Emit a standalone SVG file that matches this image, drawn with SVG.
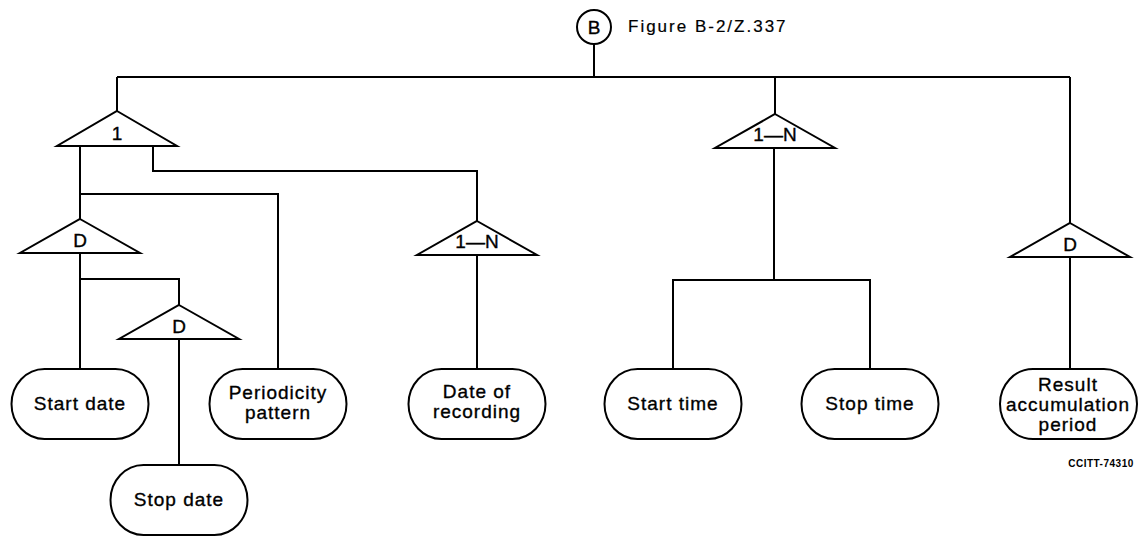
<svg xmlns="http://www.w3.org/2000/svg" width="1145" height="537" viewBox="0 0 1145 537">
<style>
.ln{fill:none;stroke:#000;stroke-width:2;stroke-linejoin:miter}
.tri{fill:#fff;stroke:#000;stroke-width:2;stroke-linejoin:miter}
.nd{fill:#fff;stroke:#000;stroke-width:2}
.t{font-family:"Liberation Sans",Arial,sans-serif;font-size:19px;letter-spacing:1px;text-anchor:middle;fill:#000;stroke:#000;stroke-width:0.35px}
.lab{font-family:"Liberation Sans",Arial,sans-serif;font-size:19px;text-anchor:middle;fill:#000;stroke:#000;stroke-width:0.35px}
.fig{font-family:"Liberation Sans",Arial,sans-serif;font-size:17px;letter-spacing:2px;fill:#000;stroke:#000;stroke-width:0.2px}
.code{font-family:"Liberation Sans",Arial,sans-serif;font-size:10px;font-weight:bold;letter-spacing:0.5px;text-anchor:middle;fill:#000}
</style>
<rect width="1145" height="537" fill="#fff"/>
<g id="connectors">
<path class="ln" d="M117 77 H1070"/>
<path class="ln" d="M594 44 V77"/>
<path class="ln" d="M117 77 V111"/>
<path class="ln" d="M775 77 V115"/>
<path class="ln" d="M1070 77 V223"/>
<path class="ln" d="M80 146 V219"/>
<path class="ln" d="M80 194 H278 V369"/>
<path class="ln" d="M153 146 V171 H477 V221"/>
<path class="ln" d="M80 253 V369"/>
<path class="ln" d="M80 279 H179 V305"/>
<path class="ln" d="M179 339 V465"/>
<path class="ln" d="M477 255 V369"/>
<path class="ln" d="M774 148 V280"/>
<path class="ln" d="M673 369 V280 H870 V369"/>
<path class="ln" d="M1070 257 V369"/>
</g>
<g id="root-B">
<circle cx="594" cy="27" r="17" fill="#fff" stroke="#000" stroke-width="2"/>
<text x="594" y="34" class="lab" font-size="20">B</text>
<text x="628" y="32" class="fig">Figure B-2/Z.337</text>
</g>
<g id="seq-1">
<polygon class="tri" points="117,111 177,146 57,146"/>
<text x="117" y="140" class="lab">1</text>
</g>
<g id="sel-D1">
<polygon class="tri" points="80,219 140,253 20,253"/>
<text x="80" y="247" class="lab">D</text>
</g>
<g id="sel-D2">
<polygon class="tri" points="179,305 239,339 119,339"/>
<text x="179" y="333" class="lab">D</text>
</g>
<g id="rep-1N-a">
<polygon class="tri" points="477,221 537,255 417,255"/>
<text x="477" y="248" class="lab">1—N</text>
</g>
<g id="rep-1N-b">
<polygon class="tri" points="775,114 835,148 715,148"/>
<text x="775" y="141" class="lab">1—N</text>
</g>
<g id="sel-D3">
<polygon class="tri" points="1070,223 1130,257 1010,257"/>
<text x="1070" y="251" class="lab">D</text>
</g>
<g id="start-date">
<rect class="nd" x="11.5" y="369" width="137" height="70" rx="33" ry="35"/>
<text x="80" y="410" class="t">Start date</text>
</g>
<g id="stop-date">
<rect class="nd" x="110.5" y="465" width="137" height="70" rx="33" ry="35"/>
<text x="179" y="506" class="t">Stop date</text>
</g>
<g id="periodicity-pattern">
<rect class="nd" x="209.5" y="369" width="137" height="70" rx="33" ry="35"/>
<text x="278" y="399" class="t">Periodicity</text>
<text x="278" y="419" class="t">pattern</text>
</g>
<g id="date-of-recording">
<rect class="nd" x="408.5" y="369" width="137" height="70" rx="33" ry="35"/>
<text x="477" y="398" class="t">Date of</text>
<text x="477" y="418" class="t">recording</text>
</g>
<g id="start-time">
<rect class="nd" x="604.5" y="369" width="137" height="70" rx="33" ry="35"/>
<text x="673" y="410" class="t">Start time</text>
</g>
<g id="stop-time">
<rect class="nd" x="801.5" y="369" width="137" height="70" rx="33" ry="35"/>
<text x="870" y="410" class="t">Stop time</text>
</g>
<g id="result-accumulation-period">
<rect class="nd" x="1000" y="369" width="137" height="70" rx="33" ry="35"/>
<text x="1068" y="391" class="t">Result</text>
<text x="1068" y="411" class="t">accumulation</text>
<text x="1068" y="431" class="t">period</text>
</g>
<text x="1101" y="467" class="code">CCITT-74310</text>
</svg>
